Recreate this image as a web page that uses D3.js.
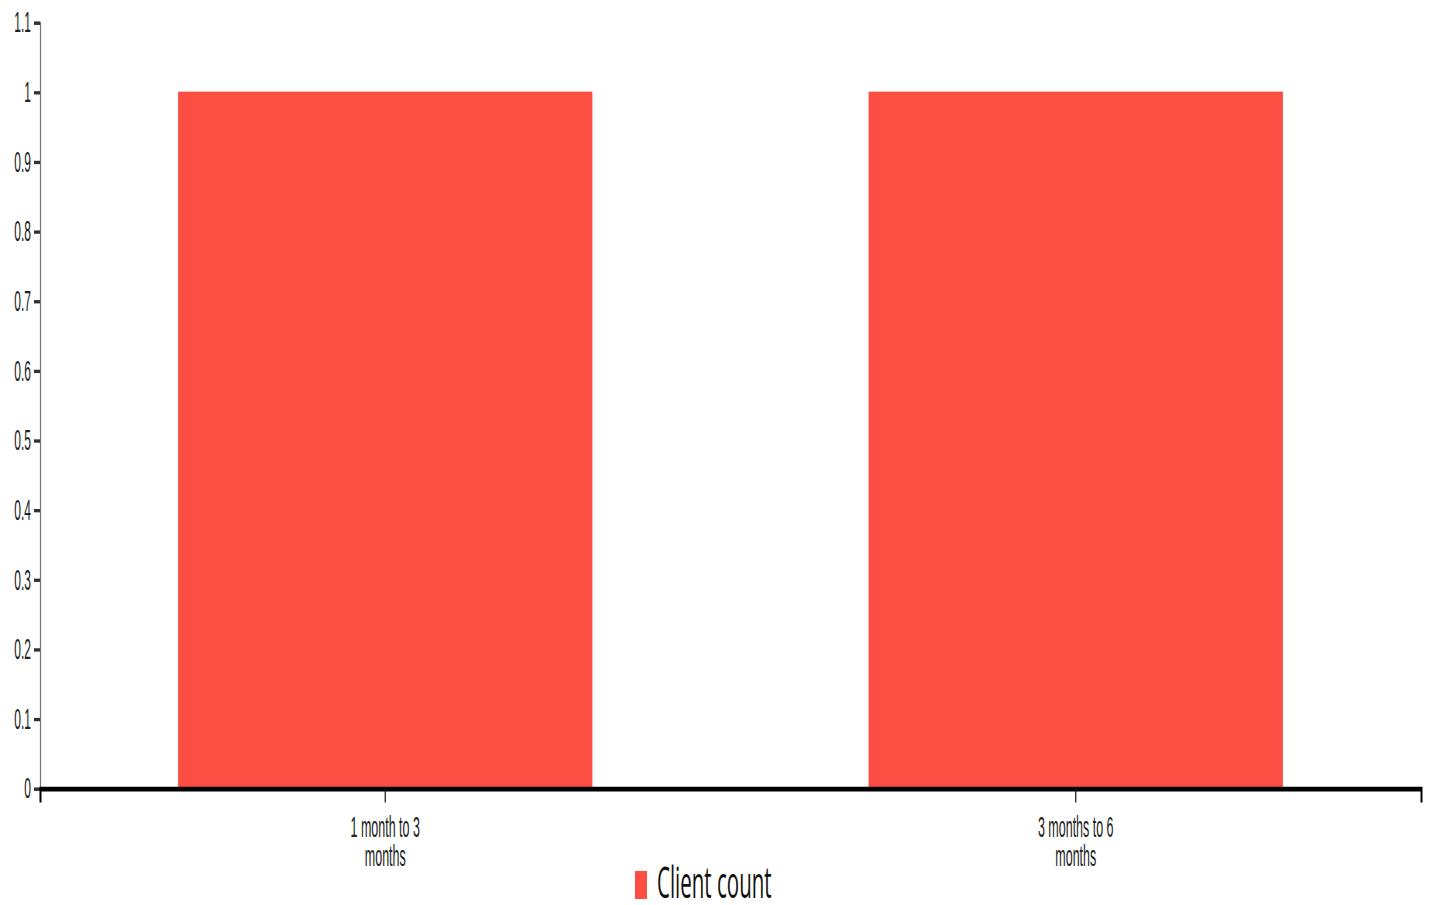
<!DOCTYPE html>
<html>
<head>
<meta charset="utf-8">
<script src="https://cdn.jsdelivr.net/npm/d3@7"></script>
<style>
  html, body { margin: 0; padding: 0; background: #fff; overflow: hidden; }
  svg { display: block; }
  .tick text { font-family: "Liberation Sans", Arial, sans-serif; font-size: 12px; fill: #222; }
</style>
</head>
<body>
<svg id="chart"></svg>
<script>
// Chart data
const categories = ["1 month to 3 months", "3 months to 6 months"];
const clientCount = [1, 1];
const seriesName = "Client count";
const yTickValues = [0, 0.1, 0.2, 0.3, 0.4, 0.5, 0.6, 0.7, 0.8, 0.9, 1, 1.1];
const yTickLabels = ["0", "0.1", "0.2", "0.3", "0.4", "0.5", "0.6", "0.7", "0.8", "0.9", "1", "1.1"];

// The drawing is laid out in a short, wide coordinate space and stretched to fill the window
const pageW = 1429, pageH = 905;
const W = 1429, H = pageH / 2.4;
const barColor = "#fc4e43";

const svg = d3.select("#chart")
  .attr("width", pageW)
  .attr("height", pageH)
  .attr("viewBox", `0 0 ${W} ${H}`)
  .attr("preserveAspectRatio", "none");

const plot = { left: 40, right: 1421, top: 22 / 2.4, bottom: 788 / 2.4 };

const x = d3.scaleBand()
  .domain(categories)
  .range([plot.left, plot.right])
  .paddingInner(0.4)
  .paddingOuter(0.2);

const y = d3.scaleLinear()
  .domain([0, 1.1])
  .range([plot.bottom, plot.top]);

// Bars
svg.append("g")
  .selectAll("rect")
  .data(categories)
  .join("rect")
  .attr("x", d => x(d))
  .attr("y", (d, i) => y(clientCount[i]))
  .attr("width", x.bandwidth())
  .attr("height", (d, i) => y(0) - y(clientCount[i]))
  .attr("fill", barColor);

// Y axis
const yAxis = svg.append("g")
  .attr("transform", `translate(${plot.left},0)`)
  .call(d3.axisLeft(y)
    .tickValues(yTickValues)
    .tickFormat((d, i) => yTickLabels[i]));
yAxis.select(".domain").attr("stroke", "#777").attr("stroke-width", 1.2);
yAxis.selectAll(".tick line").attr("stroke", "#333").attr("stroke-width", 1.4);

// X axis
const xAxis = svg.append("g")
  .attr("transform", `translate(0,${plot.bottom})`)
  .call(d3.axisBottom(x).tickSizeInner(6).tickSizeOuter(6));
xAxis.select(".domain").attr("stroke", "#000").attr("stroke-width", 2);
xAxis.selectAll(".tick line").attr("stroke", "#111").attr("stroke-width", 1.2);

// Wrap category labels onto several lines
function wrap(textSel, width) {
  textSel.each(function () {
    const text = d3.select(this);
    const words = text.text().split(/\s+/);
    const lines = [];
    let line = [];
    const probe = text.text(null).append("tspan");
    words.forEach(w => {
      line.push(w);
      probe.text(line.join(" "));
      if (probe.node().getComputedTextLength() > width && line.length > 1) {
        line.pop();
        lines.push(line.join(" "));
        line = [w];
      }
    });
    lines.push(line.join(" "));
    probe.remove();
    text.attr("y", 0).attr("dy", null);
    lines.forEach((l, i) => {
      text.append("tspan")
        .attr("x", 0)
        .attr("y", 20.3)
        .attr("dy", `${i * 1.02}em`)
        .text(l);
    });
  });
}
xAxis.selectAll(".tick text")
  .call(wrap, 80)
  .attr("transform", "scale(1.04,1)");

// Legend
const legend = svg.append("g")
  .attr("transform", `translate(635,${871 / 2.4})`);
legend.append("rect")
  .attr("width", 12)
  .attr("height", 28 / 2.4)
  .attr("fill", barColor);
legend.append("text")
  .attr("transform", `translate(22,${27 / 2.4}) scale(1.14,1)`)
  .attr("font-family", "'Open Sans', sans-serif")
  .attr("font-size", 18)
  .attr("fill", "#111")
  .text(seriesName);
</script>
</body>
</html>
